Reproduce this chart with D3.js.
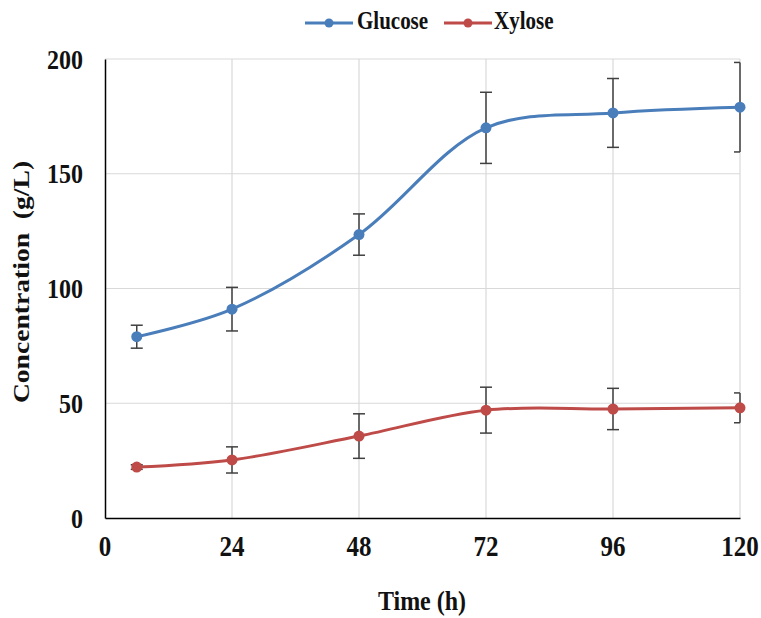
<!DOCTYPE html>
<html><head><meta charset="utf-8">
<script src="https://cdn.jsdelivr.net/npm/d3@7"></script>
<style>body{margin:0;background:#fff}svg{display:block}</style>
</head><body>
<script>
const times = [6, 24, 48, 72, 96, 120];
const glucose = [79, 91, 123.5, 170, 176.5, 179];
const glucoseErr = [5, 9.5, 9, 15.5, 15, 19.5];
const xylose = [22.2, 25.3, 35.7, 47, 47.5, 48];
const xyloseErr = [1, 5.7, 9.7, 10, 9, 6.5];
const xTicks = [0, 24, 48, 72, 96, 120];
const yTicks = [0, 50, 100, 150, 200];
const seriesNames = ["Glucose", "Xylose"];
const colors = ["#4A7EBB", "#BE4B48"];

const W = 761, H = 618;
const svg = d3.select("body").append("svg").attr("width", W).attr("height", H);
const font = "'Liberation Serif','Times New Roman',serif";
const x = d3.scaleLinear().domain([0, 120]).range([105, 740]);
const y = d3.scaleLinear().domain([0, 200]).range([518, 59]);
const SY = 1.15;

function label(px, py, txt, size, anchor) {
  return svg.append("text").attr("transform", `translate(${px},${py}) scale(1,${SY})`)
    .attr("text-anchor", anchor).attr("font-family", font).attr("font-weight", "bold")
    .attr("font-size", size).attr("fill", "#111").text(txt);
}

// grid
svg.append("g").selectAll("line").data(yTicks.filter(d => d > 0)).join("line")
  .attr("x1", x(0)).attr("x2", x(120)).attr("y1", d => y(d)).attr("y2", d => y(d))
  .attr("stroke", "#d9d9d9").attr("stroke-width", 1.2);
svg.append("g").selectAll("line").data(xTicks.filter(d => d > 0)).join("line")
  .attr("y1", y(0)).attr("y2", y(200)).attr("x1", d => x(d)).attr("x2", d => x(d))
  .attr("stroke", "#d9d9d9").attr("stroke-width", 1.2);

// axes (lines via d3 axes, labels drawn from the same scales)
const xAxis = svg.append("g").attr("transform", `translate(0,${y(0)})`)
  .call(d3.axisBottom(x).tickValues(xTicks).tickSize(0).tickFormat(""));
const yAxis = svg.append("g").attr("transform", `translate(${x(0)},0)`)
  .call(d3.axisLeft(y).tickValues(yTicks).tickSize(0).tickFormat(""));
[xAxis, yAxis].forEach(a => a.select(".domain").attr("stroke", "#000").attr("stroke-width", 1.5));
xTicks.forEach(t => label(x(t), 556, String(t), 25, "middle"));
yTicks.forEach(t => label(83, y(t) + 9.5, String(t), 24, "end"));

label(422, 610, "Time (h)", 24, "middle");
svg.append("text").attr("transform", `translate(29,282) scale(1,${SY}) rotate(-90)`).attr("text-anchor", "middle")
  .attr("font-family", font).attr("font-weight", "bold").attr("font-size", 24).attr("fill", "#111")
  .attr("xml:space", "preserve").style("white-space", "pre").text("Concentration  (g/L)");

const series = [
  {name: seriesNames[0], vals: glucose, err: glucoseErr, color: colors[0]},
  {name: seriesNames[1], vals: xylose, err: xyloseErr, color: colors[1]}
];
const line = d3.line().x(d => x(d[0])).y(d => y(d[1])).curve(d3.curveCatmullRom.alpha(0.5));

series.forEach(s => {
  const pts = times.map((t, i) => [t, s.vals[i], s.err[i]]);
  const g = svg.append("g");
  g.append("path").datum(pts).attr("d", line).attr("fill", "none")
    .attr("stroke", s.color).attr("stroke-width", 3);
  const eb = g.append("g").selectAll("g").data(pts).join("g");
  eb.append("line").attr("x1", d => x(d[0])).attr("x2", d => x(d[0]))
    .attr("y1", d => y(d[1] + d[2])).attr("y2", d => y(d[1] - d[2]))
    .attr("stroke", "#404040").attr("stroke-width", 1.5);
  [1, -1].forEach(sg => {
    eb.append("line").attr("x1", d => x(d[0]) - 6).attr("x2", d => x(d[0]) + (d[0] === 120 ? 0 : 6))
      .attr("y1", d => y(d[1] + sg * d[2])).attr("y2", d => y(d[1] + sg * d[2]))
      .attr("stroke", "#404040").attr("stroke-width", 1.5);
  });
  g.append("g").selectAll("circle").data(pts).join("circle")
    .attr("cx", d => x(d[0])).attr("cy", d => y(d[1])).attr("r", 5.5).attr("fill", s.color);
});

// legend
const leg = [{x: 305, tx: 357}, {x: 444, tx: 494}];
series.forEach((s, i) => {
  const L = leg[i];
  svg.append("line").attr("x1", L.x).attr("x2", L.x + 48).attr("y1", 23).attr("y2", 23)
    .attr("stroke", s.color).attr("stroke-width", 3);
  svg.append("circle").attr("cx", L.x + 24).attr("cy", 23).attr("r", 4.5).attr("fill", s.color);
  label(L.tx, 29, s.name, 21, "start");
});
</script>
</body></html>
